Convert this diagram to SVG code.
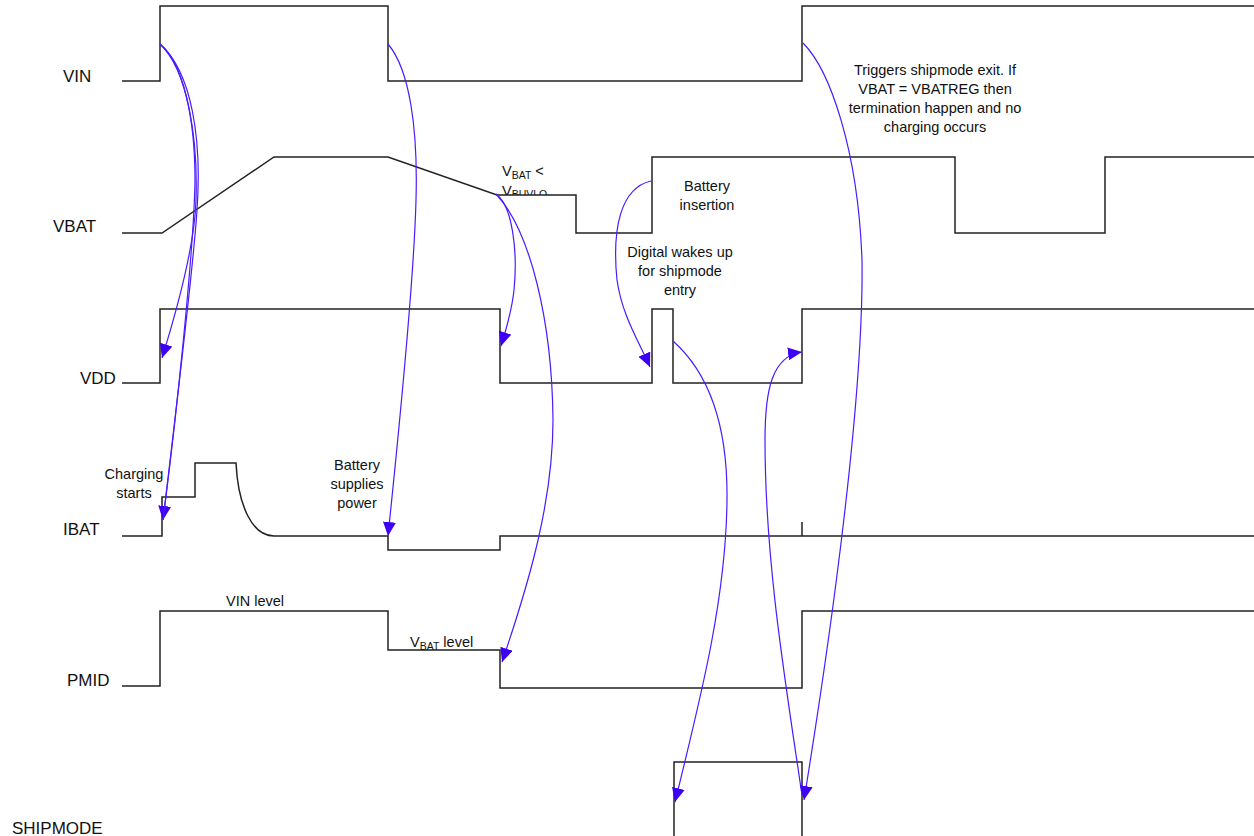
<svg xmlns="http://www.w3.org/2000/svg" width="1254" height="836" viewBox="0 0 1254 836">
<style>
.sig{fill:none;stroke:#222;stroke-width:1.5}
.con{fill:none;stroke:#4a1aff;stroke-width:1.2}
.lbl{font-family:"Liberation Sans",Arial,sans-serif;font-size:17px;fill:#111}
.ann{font-family:"Liberation Sans",Arial,sans-serif;font-size:14.5px;fill:#111;text-anchor:middle}
.ann2{font-family:"Liberation Sans",Arial,sans-serif;font-size:14.5px;fill:#111}
</style>
<defs>
<marker id="ah" markerUnits="userSpaceOnUse" markerWidth="16" markerHeight="14" refX="14" refY="6.5" orient="auto">
<path d="M0,0 L14,6.5 L0,13 z" fill="#3d00f5"/>
</marker>
<clipPath id="clipUvlo"><rect x="490" y="178" width="80" height="17"/></clipPath>
</defs>
<rect width="1254" height="836" fill="#fff"/>

<g id="VIN">
<text class="lbl" x="63" y="82">VIN</text>
<path class="sig" d="M122,81 H160 V6 H388 V81 H802 V6 H1254"/>
</g>
<g id="VBAT">
<text class="lbl" x="53" y="232">VBAT</text>
<path class="sig" d="M122,233 H162 L274,157 H388 L497,195 H576 V233 H652 V157 H955 V233 H1105 V157 H1254"/>
</g>
<g id="VDD">
<text class="lbl" x="80" y="384">VDD</text>
<path class="sig" d="M122,383 H160 V309 H500 V383 H652 V309 H673 V383 H802 V309 H1254"/>
</g>
<g id="IBAT">
<text class="lbl" x="63" y="535">IBAT</text>
<path class="sig" d="M122,536 H162 V497 H195 V463 H236 C238,505 252,536 274,536 H388 V550 H500 V536 H1254"/>
<path class="sig" d="M802,522 V536"/>
</g>
<g id="PMID">
<text class="lbl" x="67" y="686">PMID</text>
<path class="sig" d="M122,686 H160 V611 H388 V650 H500 V688 H802 V611 H1254"/>
</g>
<g id="SHIPMODE">
<text class="lbl" x="12" y="834">SHIPMODE</text>
<path class="sig" d="M674,836 V762 H802 V836"/>
</g>

<g id="annotations">
<text class="ann" x="134" y="479">Charging</text>
<text class="ann" x="134" y="498">starts</text>
<text class="ann" x="357" y="470">Battery</text>
<text class="ann" x="357" y="489">supplies</text>
<text class="ann" x="357" y="508">power</text>
<text class="ann2" x="226" y="606" font-size="13.5">VIN level</text>
<text class="ann2" x="410" y="647">V<tspan font-size="10.5" dy="3">BAT</tspan><tspan dy="-3"> level</tspan></text>
<text class="ann2" x="502" y="176">V<tspan font-size="10.5" dy="3">BAT</tspan><tspan dy="-3"> &lt;</tspan></text>
<text class="ann2" x="502" y="196" clip-path="url(#clipUvlo)">V<tspan font-size="10.5" dy="2">BUVLO</tspan></text>
<text class="ann" x="707" y="191">Battery</text>
<text class="ann" x="707" y="210">insertion</text>
<text class="ann" x="680" y="257">Digital wakes up</text>
<text class="ann" x="680" y="276">for shipmode</text>
<text class="ann" x="680" y="295">entry</text>
<text class="ann" x="935" y="75">Triggers shipmode exit. If</text>
<text class="ann" x="935" y="94">VBAT = VBATREG then</text>
<text class="ann" x="935" y="113">termination happen and no</text>
<text class="ann" x="935" y="132">charging occurs</text>
</g>

<g id="connectors">
<path class="con" marker-end="url(#ah)" d="M160,44 C188,70 198,140 196,200 C195,240 180,300 162,358"/>
<path class="con" marker-end="url(#ah)" d="M160,44 C192,72 202,140 197,210 C194,260 175,420 163,520"/>
<path class="con" d="M160,44 C184,64 195,120 195,180 C194,250 176,420 163,520"/>
<path class="con" marker-end="url(#ah)" d="M388,44 C410,70 418,130 416,200 C414,280 398,440 388,536"/>
<path class="con" marker-end="url(#ah)" d="M496,194 C512,205 518,250 514,290 C512,310 506,330 501,346"/>
<path class="con" marker-end="url(#ah)" d="M496,194 C530,230 552,320 553,420 C553,500 530,580 502,662"/>
<path class="con" marker-end="url(#ah)" d="M651,181 C620,188 612,230 617,280 C622,315 638,340 650,367"/>
<path class="con" marker-end="url(#ah)" d="M673,341 C700,365 728,410 727,500 C726,600 700,700 675,802"/>
<path class="con" marker-end="url(#ah)" d="M802,795 C785,680 765,560 765,440 C765,390 772,356 802,352"/>
<path class="con" marker-end="url(#ah)" d="M803,43 C830,70 858,150 862,260 C864,400 830,640 804,800"/>
</g>
</svg>
